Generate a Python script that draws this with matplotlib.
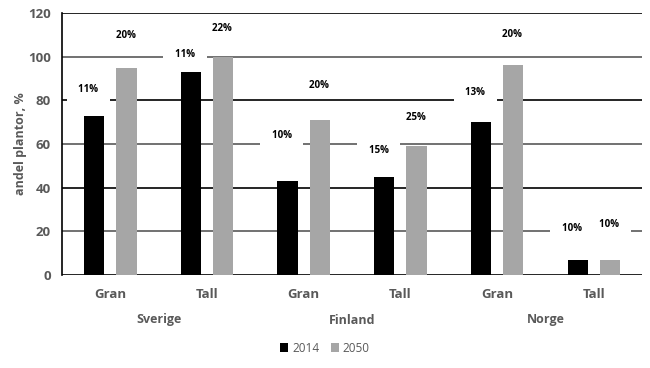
import numpy as np
import matplotlib.pyplot as plt
from matplotlib.transforms import blended_transform_factory

plt.rcParams['font.family'] = ['Open Sans', 'DejaVu Sans']

# Data
countries = ['Sverige', 'Finland', 'Norge']
species = ['Gran', 'Tall', 'Gran', 'Tall', 'Gran', 'Tall']
v2014 = [73, 93, 43, 45, 70, 7]
v2050 = [95, 100, 71, 59, 96, 7]
lab2014 = ['11%', '11%', '10%', '15%', '13%', '10%']
lab2050 = ['20%', '22%', '20%', '25%', '20%', '10%']
# height where each percent label sits
laby2014 = [85, 101, 64, 57, 83.5, 21.5]
laby2050 = [109.5, 113, 87, 72, 110, 23]

fig = plt.figure(figsize=(6.5, 3.68), dpi=100)
ax = fig.add_axes([0.0954, 0.2527, 0.8926, 0.712])

x = np.arange(len(species))
w = 0.21
off = 0.167

# gridlines, alternating black / dark grey
grid_cols = ['black', '#595959', 'black', '#595959', 'black', '#595959', 'black']
for yv, gc in zip(range(0, 121, 20), grid_cols):
    ax.axhline(yv, color=gc, lw=1.2, zorder=0)

ax.bar(x - off, v2014, w, color='black', label='2014', zorder=2)
ax.bar(x + off, v2050, w, color='#a6a6a6', label='2050', zorder=2)

# white boxes behind the labels break the gridlines
bbox = dict(boxstyle='square,pad=0.68', fc='white', ec='none')
sp = '  '
for i in range(len(x)):
    ax.text(x[i] - off - 0.06, laby2014[i], sp + lab2014[i] + sp, ha='center', va='center',
            fontsize=7, fontweight='bold', bbox=bbox, zorder=3)
    ax.text(x[i] + off - 0.01, laby2050[i], sp + lab2050[i] + sp, ha='center', va='center',
            fontsize=7, fontweight='bold', bbox=bbox, zorder=3)

ax.set_xlim(-0.5, 5.5)
ax.set_ylim(0, 120)
ax.set_yticks(range(0, 121, 20))
ax.set_xticks(x)
ax.set_xticklabels(species)
ax.tick_params(length=0, colors='#595959', labelsize=9.5)
ax.tick_params(axis='x', pad=9)
ax.tick_params(axis='y', pad=8)
for lbl in ax.get_xticklabels() + ax.get_yticklabels():
    lbl.set_fontweight('bold')

for s in ['top', 'right', 'bottom']:
    ax.spines[s].set_visible(False)
ax.spines['left'].set_color('black')
ax.spines['left'].set_linewidth(1.2)

ax.set_ylabel('andel plantor, %', fontsize=9, fontweight='bold', color='#595959', labelpad=1)

trans = blended_transform_factory(ax.transData, fig.transFigure)
for k, c in enumerate(countries):
    ax.text(2 * k + 0.5, 1 - 320 / 368, c, transform=trans, ha='center', va='center',
            fontsize=9, fontweight='bold', color='#595959')

leg = fig.legend(loc='center', bbox_to_anchor=(0.5, 1 - 348 / 368), ncol=2, frameon=False,
                 fontsize=8.5, handlelength=0.7, handleheight=0.7, handletextpad=0.3,
                 columnspacing=1.0, labelcolor='#595959')

fig.savefig('out.png', dpi=100)
